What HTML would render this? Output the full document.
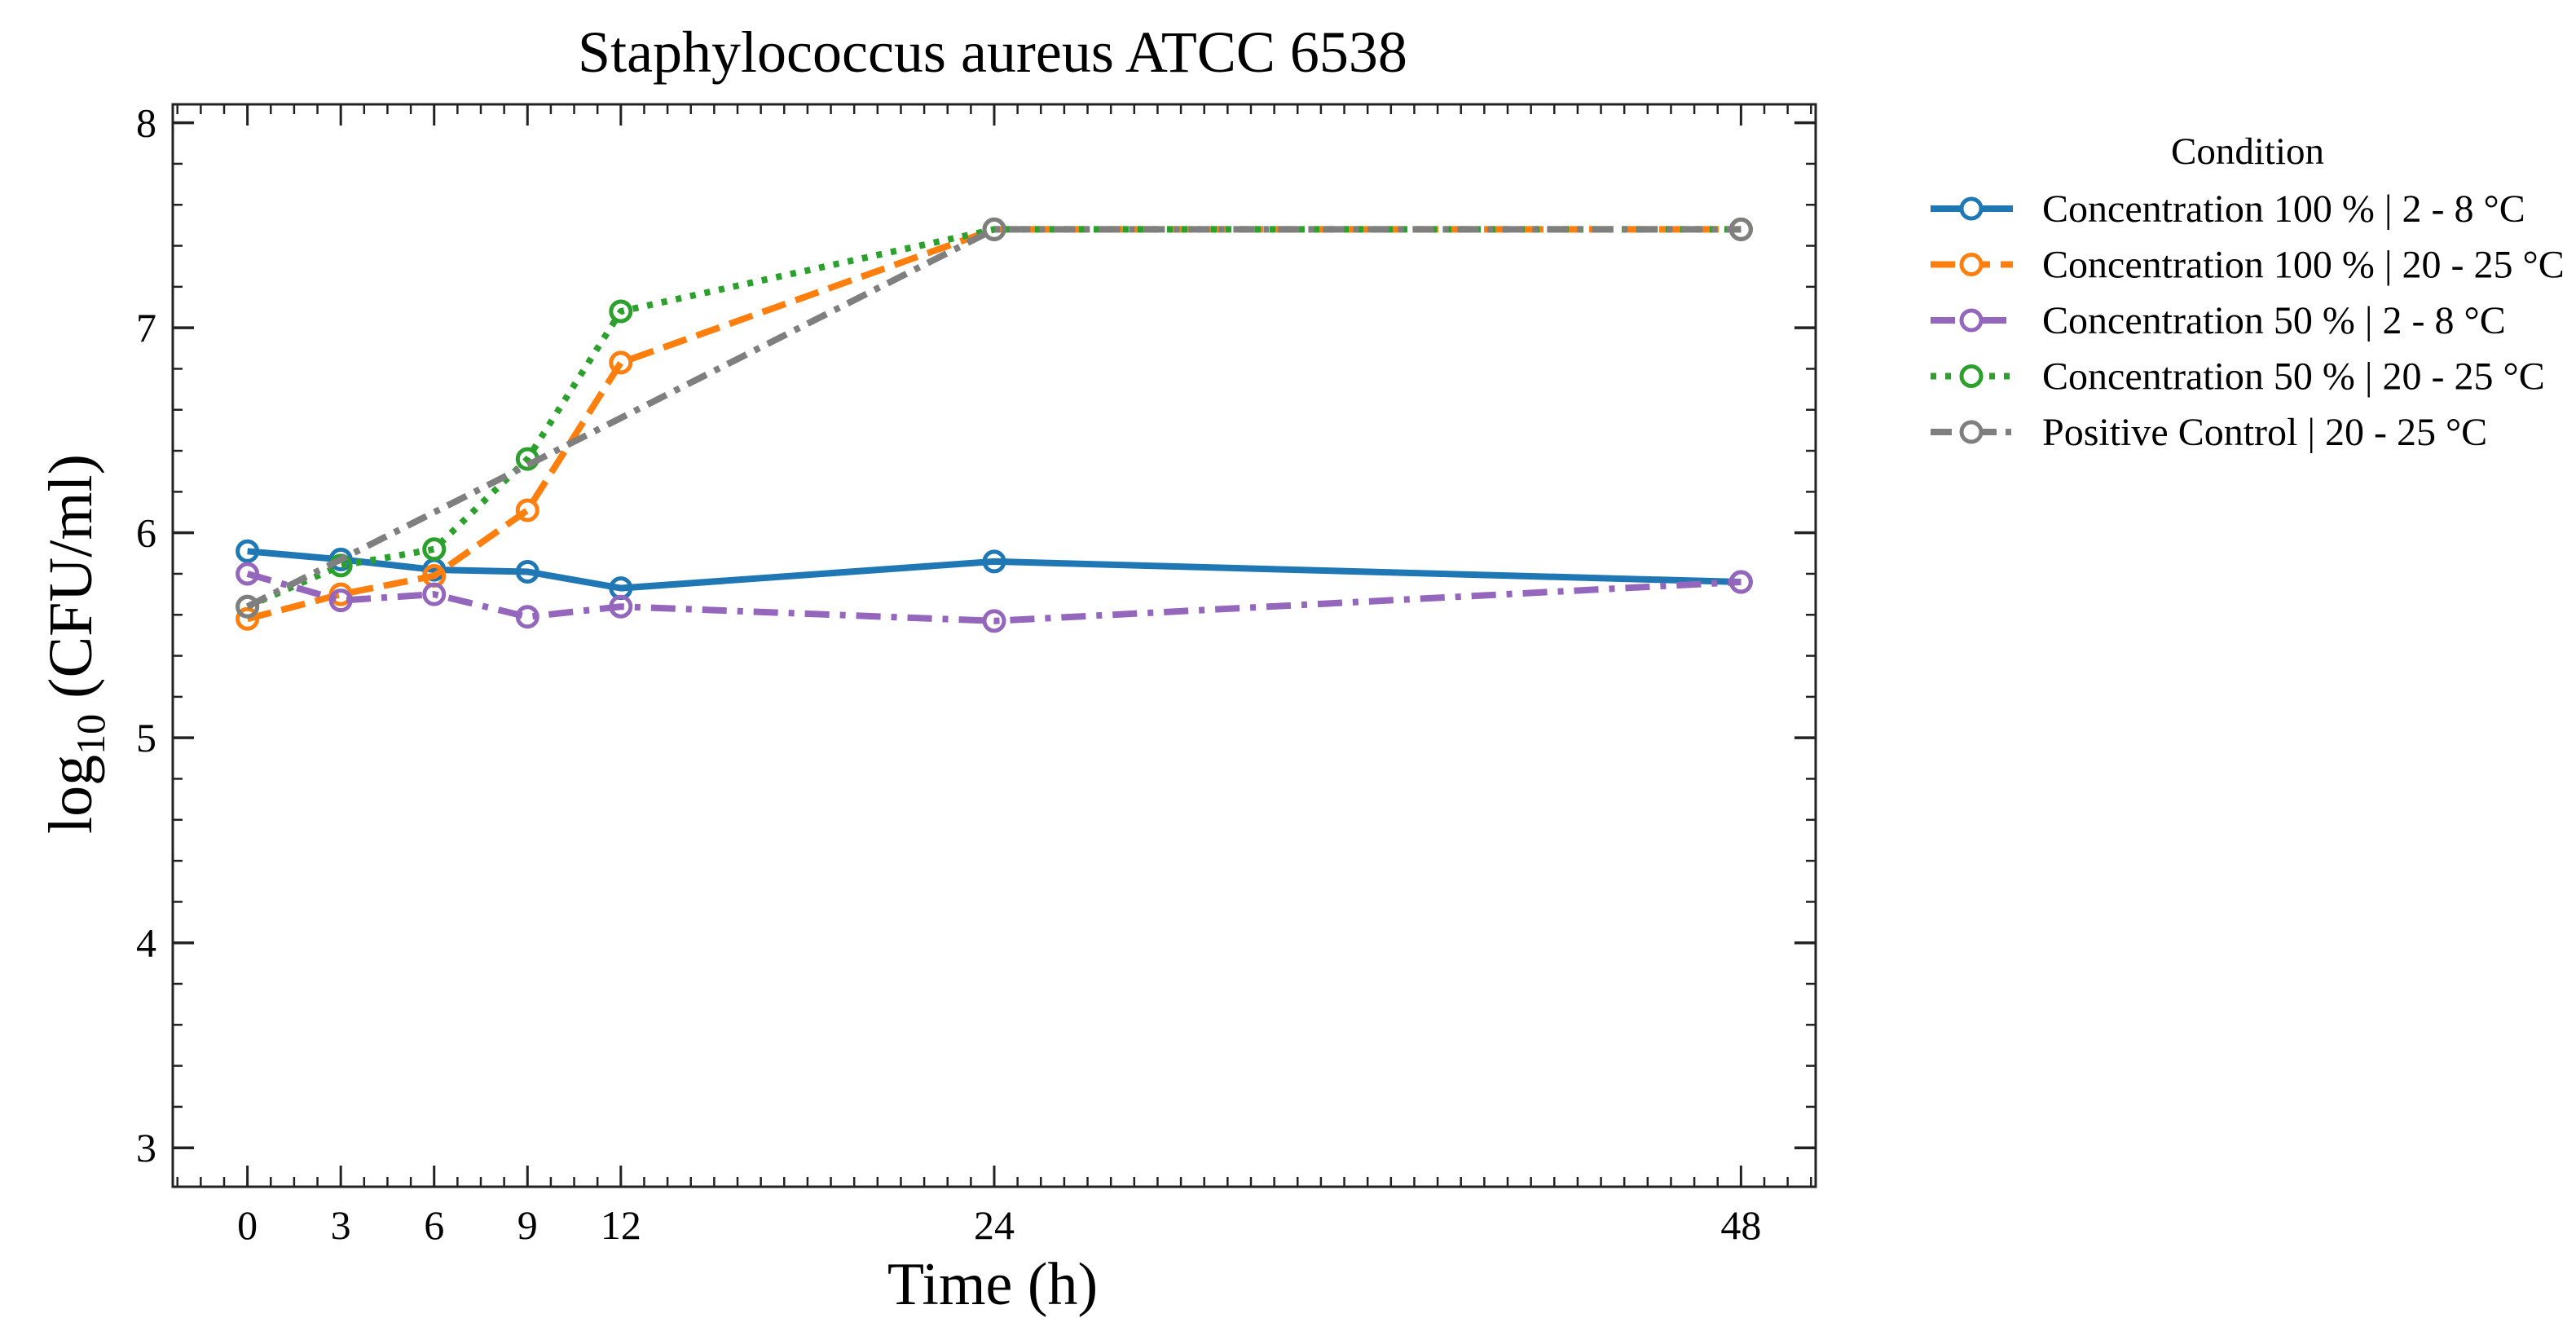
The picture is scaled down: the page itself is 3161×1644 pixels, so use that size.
<!DOCTYPE html>
<html><head><meta charset="utf-8"><style>
html,body{margin:0;padding:0;background:#fff}
svg{display:block;font-family:"Liberation Serif",serif}
</style></head><body>
<svg id="chart" width="3161" height="1644" viewBox="0 0 3161 1644" xmlns="http://www.w3.org/2000/svg">
<text x="1218" y="88" font-size="72" text-anchor="middle">Staphylococcus aureus ATCC 6538</text>
<g id="axes"></g>
<g id="series"></g>
<rect x="212" y="128" width="2016" height="1328" fill="none" stroke="#222" stroke-width="3"/>
<text x="1218" y="1600" font-size="74" text-anchor="middle">Time (h)</text>
<text transform="translate(112,790) rotate(-90)" font-size="76" text-anchor="middle">log<tspan font-size="50" dy="16">10</tspan><tspan dy="-16"> (CFU/ml)</tspan></text>
<g id="legend">
<text x="2758" y="201" font-size="47" text-anchor="middle">Condition</text>
</g>
</svg>
<script>
const xTicks = [0, 3, 6, 9, 12, 24, 48];
const yTicks = [3, 4, 5, 6, 7, 8];
const seriesNames = ["Concentration 100 % | 2 - 8 °C","Concentration 100 % | 20 - 25 °C","Concentration 50 % | 2 - 8 °C","Concentration 50 % | 20 - 25 °C","Positive Control | 20 - 25 °C"];
const timesAll = [0, 3, 6, 9, 12, 24, 48];
const blueVals = [5.91, 5.87, 5.82, 5.81, 5.73, 5.86, 5.76];
const orangeVals = [5.58, 5.70, 5.79, 6.11, 6.83, 7.48, 7.48];
const purpleVals = [5.80, 5.67, 5.70, 5.59, 5.64, 5.57, 5.76];
const greenVals = [5.64, 5.84, 5.92, 6.36, 7.08, 7.48, 7.48];
const grayTimes = [0, 24, 48];
const grayVals = [5.64, 7.48, 7.48];

const NS = "http://www.w3.org/2000/svg";
const X0 = 212, X1 = 2228, Y0 = 128, Y1 = 1456;
const xMin = -2.4, xMax = 50.4, yMin = 2.81, yMax = 8.09;
function sx(v){ return X0 + (v - xMin) / (xMax - xMin) * (X1 - X0); }
function sy(v){ return Y1 - (v - yMin) / (yMax - yMin) * (Y1 - Y0); }
function mk(tag, attrs, parent){ const e = document.createElementNS(NS, tag); for (const k in attrs) e.setAttribute(k, attrs[k]); parent.appendChild(e); return e; }

const axes = document.getElementById('axes');
function tick(x1,y1,x2,y2,w,name){
  const t = mk('line',{x1:x1,y1:y1,x2:x2,y2:y2,stroke:'#222','stroke-width':w},axes);
  
  
}
for (let m = -2.25; m <= 50.3; m += 0.75) {
  const x = sx(m);
  tick(x, Y1, x, Y1-12, 2.5, 'x-minor-tick');
  tick(x, Y0, x, Y0+12, 2.5, 'x-minor-tick');
}
for (let m = 2.2; m <= 8.05; m += 0.2) {
  const y = sy(m);
  if (y > Y1 || y < Y0) continue;
  tick(X0, y, X0+12, y, 2.5, 'y-minor-tick');
  tick(X1, y, X1-12, y, 2.5, 'y-minor-tick');
}
xTicks.forEach(v => {
  const x = sx(v);
  tick(x, Y1, x, Y1-26, 3, 'x-major-tick');
  tick(x, Y0, x, Y0+26, 3, 'x-major-tick');
  const t = mk('text',{x:x,y:1520,'font-size':50,'text-anchor':'middle'},axes);
  t.textContent = v;
  
  
});
yTicks.forEach(v => {
  const y = sy(v);
  tick(X0, y, X0+26, y, 3.5, 'y-major-tick');
  tick(X1, y, X1-26, y, 3.5, 'y-major-tick');
  const t = mk('text',{x:192,y:y+17,'font-size':50,'text-anchor':'end'},axes);
  t.textContent = v;
  
  
});

const styles = [
  {c:'#1f77b4', d:'none', name:'series-conc100-2-8'},
  {c:'#ff7f0e', d:'30,13', name:'series-conc100-20-25'},
  {c:'#9467bd', d:'30,13,7,13', name:'series-conc50-2-8'},
  {c:'#2ca02c', d:'7,11', name:'series-conc50-20-25'},
  {c:'#7f7f7f', d:'26,11,7,11', name:'series-positive-control'}
];
const data = [
  [timesAll, blueVals], [timesAll, orangeVals], [timesAll, purpleVals], [timesAll, greenVals], [grayTimes, grayVals]
];
const sg = document.getElementById('series');
data.forEach((d, i) => {
  const st = styles[i];
  const g = mk('g', {}, sg);
  
  
  const pts = d[0].map((t, j) => sx(t) + ',' + sy(d[1][j])).join(' ');
  const pl = mk('polyline',{points:pts,fill:'none',stroke:st.c,'stroke-width':8,'stroke-dasharray':st.d,'stroke-linejoin':'round'},g);
  
  
  d[0].forEach((t, j) => {
    const c = mk('circle',{cx:sx(t),cy:sy(d[1][j]),r:12,fill:'none',stroke:st.c,'stroke-width':5},g);
    
    
  });
});

const lg = document.getElementById('legend');
seriesNames.forEach((n, i) => {
  const st = styles[i];
  const y = 256 + i * 68.5;
  const g = mk('g', {}, lg);
  
  
  const l = mk('line',{x1:2369,y1:y,x2:2470,y2:y,stroke:st.c,'stroke-width':8,'stroke-dasharray':st.d},g);
  
  
  const c = mk('circle',{cx:2419,cy:y,r:12,fill:'#fff',stroke:st.c,'stroke-width':5},g);
  
  
  const t = mk('text',{x:2506,y:y+16,'font-size':48},g);
  t.textContent = n;
  
  
});
</script>
</body></html>
